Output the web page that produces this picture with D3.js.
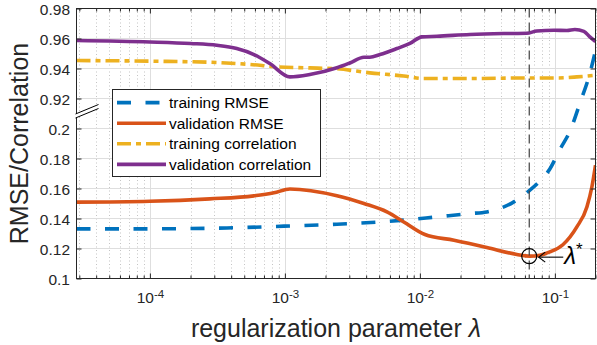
<!DOCTYPE html>
<html><head><meta charset="utf-8">
<script src="https://cdn.jsdelivr.net/npm/d3@7"></script>
<style>
body{margin:0;background:#fff}
svg{display:block}
text{font-family:"Liberation Sans",Arial,Helvetica,sans-serif}
</style>
</head><body>
<svg id="c" width="597" height="345"></svg>
<script>
// ---------- data ----------
const trainRmseLambda = [2.86e-5, 9.0e-5, 3.72e-4, 9.84e-4, 2.43e-3, 7.6e-3, 1.34e-2, 2.35e-2, 3.13e-2, 4.97e-2, 6.53e-2, 7.74e-2, 9.18e-2, 0.1089, 0.1303, 0.153, 0.1816, 0.2];
const trainRmse       = [0.1331, 0.1331, 0.1337, 0.1349, 0.1362, 0.1389, 0.1411, 0.1433, 0.1444, 0.1511, 0.1589, 0.1650, 0.1730, 0.1860, 0.1989, 0.2167, 0.2367, 0.252];

const valRmseLambda = [2.86e-5, 1e-4, 2.78e-4, 5.9e-4, 8.3e-4, 1.09e-3, 2.43e-3, 3.85e-3, 5.7e-3, 7.6e-3, 1.09e-2, 1.79e-2, 3.13e-2, 5.23e-2, 6.53e-2, 7.74e-2, 9.18e-2, 0.1146, 0.1455, 0.1727, 0.188, 0.2];
const valRmse       = [0.1509, 0.1515, 0.1531, 0.1551, 0.1571, 0.1597, 0.1552, 0.1500, 0.1444, 0.1377, 0.1293, 0.1255, 0.1207, 0.1160, 0.1149, 0.1155, 0.1177, 0.1225, 0.1344, 0.1477, 0.1610, 0.1755];

const trainCorrLambda = [2.86e-5, 1e-4, 3.13e-4, 5.5e-4, 8.73e-4, 1.53e-3, 2.43e-3, 4.26e-3, 7.6e-3, 1.07e-2, 2.35e-2, 6.2e-2, 0.1035, 0.1455, 0.2];
const trainCorr       = [0.9453, 0.9449, 0.9440, 0.9427, 0.9411, 0.9404, 0.9398, 0.9371, 0.9350, 0.9333, 0.9333, 0.9337, 0.9337, 0.9344, 0.9355];

const valCorrLambda = [2.86e-5, 1e-4, 2e-4, 3.13e-4, 4.4e-4, 5.9e-4, 7.74e-4, 1.09e-3, 1.53e-3, 2.43e-3, 3.03e-3, 3.85e-3, 4.26e-3, 5.06e-3, 6.76e-3, 8.44e-3, 1.035e-2, 1.34e-2, 2.35e-2, 4.19e-2, 6.2e-2, 7.36e-2, 9.84e-2, 0.1228, 0.1406, 0.164, 0.1816, 0.2];
const valCorr       = [0.9587, 0.9577, 0.9567, 0.9555, 0.9533, 0.9493, 0.9433, 0.9344, 0.9360, 0.9405, 0.9437, 0.9475, 0.9475, 0.9493, 0.9533, 0.9567, 0.9611, 0.9615, 0.9627, 0.9633, 0.9635, 0.9650, 0.9655, 0.9653, 0.9660, 0.9648, 0.9611, 0.9580];

const seriesNames = ["training RMSE", "validation RMSE", "training correlation", "validation correlation"];

// y axis with a break: correlation values are shifted down by this offset
const corrOffset = 0.70;
const yTickValues = [0.1, 0.12, 0.14, 0.16, 0.18, 0.2, 0.22, 0.24, 0.26, 0.28];
const yTickLabels = ["0.1", "0.12", "0.14", "0.16", "0.18", "0.2", "0.92", "0.94", "0.96", "0.98"];
const yBreakAt = 0.21;

const xMajorTicks = [1e-4, 1e-3, 1e-2, 1e-1];
const xMajorExp = ["-4", "-3", "-2", "-1"];

const lambdaStar = 0.0646;
const rmseAtStar = 0.1149;

// ---------- layout ----------
const L = 76.5, R = 595.5, T = 8.5, B = 278.5;
const svg = d3.select("#c");
const x = d3.scaleLog().domain([2.86e-5, 0.2]).range([L, R]);
const y = d3.scaleLinear().domain([0.1, 0.28]).range([B, T]);
const axisCol = "#262626";

// minor tick values
const xMinor = [];
for (let k = -5; k <= -1; k++) for (let m = 2; m <= 9; m++) {
  const v = m * Math.pow(10, k);
  if (v >= x.domain()[0] && v <= x.domain()[1]) xMinor.push(v);
}

// ---------- grid ----------
const grid = svg.append("g");
grid.selectAll(".mg").data(xMinor).join("line")
  .attr("x1", d => Math.round(x(d)) + 0.5).attr("x2", d => Math.round(x(d)) + 0.5)
  .attr("y1", T).attr("y2", B)
  .attr("stroke", "#c4c4c4").attr("stroke-width", 1).attr("stroke-dasharray", "1,2.5");
grid.selectAll(".Mg").data(xMajorTicks).join("line")
  .attr("x1", d => Math.round(x(d)) + 0.5).attr("x2", d => Math.round(x(d)) + 0.5)
  .attr("y1", T).attr("y2", B)
  .attr("stroke", "#dedede").attr("stroke-width", 1);
grid.selectAll(".hg").data(yTickValues).join("line")
  .attr("x1", L).attr("x2", R)
  .attr("y1", d => Math.round(y(d) - 0.5) + 0.5).attr("y2", d => Math.round(y(d) - 0.5) + 0.5)
  .attr("stroke", "#dedede").attr("stroke-width", 1);

// ---------- curves ----------
svg.append("clipPath").attr("id", "clip").append("rect")
  .attr("x", L).attr("y", T).attr("width", R - L).attr("height", B - T);

const series = [
  { name: seriesNames[0], xs: trainRmseLambda, ys: trainRmse, off: 0, color: "#0072BD", dash: "14,14.5" },
  { name: seriesNames[1], xs: valRmseLambda, ys: valRmse, off: 0, color: "#D95319", dash: null },
  { name: seriesNames[2], xs: trainCorrLambda, ys: trainCorr, off: corrOffset, color: "#EDB120", dash: "14,5,5,5" },
  { name: seriesNames[3], xs: valCorrLambda, ys: valCorr, off: corrOffset, color: "#7E2F8E", dash: null }
];
const line = d3.line().x(d => x(d[0])).y(d => y(d[1])).curve(d3.curveMonotoneX);
const curves = svg.append("g").attr("clip-path", "url(#clip)");
series.forEach(s => {
  const pts = s.xs.map((v, i) => [v, s.ys[i] - s.off]);
  curves.append("path").attr("d", line(pts))
    .attr("fill", "none").attr("stroke", s.color).attr("stroke-width", 3.6)
    .attr("stroke-dasharray", s.dash).attr("stroke-linejoin", "round");
});

// ---------- lambda* marker ----------
const xs = x(lambdaStar);
svg.append("line").attr("x1", xs).attr("x2", xs).attr("y1", T).attr("y2", B)
  .attr("stroke", "#404040").attr("stroke-width", 1.2).attr("stroke-dasharray", "9,5");
const ys = y(rmseAtStar);
svg.append("circle").attr("cx", xs).attr("cy", ys).attr("r", 7.5)
  .attr("fill", "none").attr("stroke", "#000").attr("stroke-width", 1.2);
svg.append("line").attr("x1", xs + 9.5).attr("x2", xs + 34).attr("y1", ys + 1).attr("y2", ys + 1)
  .attr("stroke", "#000").attr("stroke-width", 1.1);
svg.append("path").attr("d", `M${xs + 16},${ys - 4} L${xs + 9.5},${ys + 1} L${xs + 16},${ys + 6}`)
  .attr("fill", "none").attr("stroke", "#000").attr("stroke-width", 1.1);
const lt = svg.append("text").attr("x", xs + 35).attr("y", ys + 8)
  .attr("font-size", 24).attr("fill", "#000");
lt.append("tspan").attr("font-style", "italic").text("λ");
lt.append("tspan").attr("font-size", 17).attr("dy", -9).text("*");

// ---------- axes ----------
function styleAxis(g) {
  g.select(".domain").remove();
  g.selectAll(".tick line").attr("stroke", axisCol);
}
// bottom major
const gxb = svg.append("g").attr("transform", `translate(0,${B})`)
  .call(d3.axisBottom(x).tickValues(xMajorTicks).tickSizeInner(-5).tickSizeOuter(0).tickFormat(() => ""))
  .call(styleAxis);
gxb.selectAll(".tick text").each(function (d, i) {
  const t = d3.select(this);
  t.attr("y", 24.8).attr("dy", null).attr("fill", axisCol).attr("font-size", 15.5)
    .attr("font-family", '"Liberation Sans",Arial,Helvetica,sans-serif');
  t.text(null);
  t.append("tspan").text("10");
  t.append("tspan").attr("font-size", 11.5).attr("dy", -5.5).text(xMajorExp[i]);
});
svg.append("g").attr("transform", `translate(0,${B})`)
  .call(d3.axisBottom(x).tickValues(xMinor).tickSizeInner(-3).tickSizeOuter(0).tickFormat(() => ""))
  .call(styleAxis);
// top
svg.append("g").attr("transform", `translate(0,${T})`)
  .call(d3.axisTop(x).tickValues(xMajorTicks).tickSizeInner(-5).tickSizeOuter(0).tickFormat(() => ""))
  .call(styleAxis);
svg.append("g").attr("transform", `translate(0,${T})`)
  .call(d3.axisTop(x).tickValues(xMinor).tickSizeInner(-3).tickSizeOuter(0).tickFormat(() => ""))
  .call(styleAxis);
// left
const gyl = svg.append("g").attr("transform", `translate(${L},0)`)
  .call(d3.axisLeft(y).tickValues(yTickValues).tickSizeInner(-5).tickSizeOuter(0).tickFormat((d, i) => yTickLabels[i]))
  .call(styleAxis);
gyl.selectAll(".tick text").attr("x", -6.5).attr("dy", "0.36em").attr("fill", axisCol)
  .attr("font-size", 15.5).attr("font-family", '"Liberation Sans",Arial,Helvetica,sans-serif');
// right
svg.append("g").attr("transform", `translate(${R},0)`)
  .call(d3.axisRight(y).tickValues(yTickValues).tickSizeInner(-5).tickSizeOuter(0).tickFormat(() => ""))
  .call(styleAxis);
// box
svg.append("rect").attr("x", L).attr("y", T).attr("width", R - L).attr("height", B - T)
  .attr("fill", "none").attr("stroke", axisCol).attr("stroke-width", 1);

// axis break mark
const yb = y(yBreakAt);
svg.append("path")
  .attr("d", `M${L - 1},${yb + 0.5} L${L + 22},${yb - 9} L${L + 22},${yb - 5} L${L - 1},${yb + 4.5} Z`)
  .attr("fill", "#fff");
svg.append("path")
  .attr("d", `M${L - 1},${yb + 0.5} L${L + 22},${yb - 9} M${L - 1},${yb + 4.5} L${L + 22},${yb - 5}`)
  .attr("stroke", "#000").attr("stroke-width", 1);

// ---------- legend ----------
const lg = svg.append("g");
lg.append("rect").attr("x", 112.5).attr("y", 89.5).attr("width", 208).attr("height", 87)
  .attr("fill", "#fff").attr("stroke", axisCol).attr("stroke-width", 1);
series.forEach((s, i) => {
  const cy = 102.6 + i * 20.6;
  lg.append("line").attr("x1", 117).attr("x2", 166).attr("y1", cy).attr("y2", cy)
    .attr("stroke", s.color).attr("stroke-width", 3.6).attr("stroke-dasharray", s.dash);
  lg.append("text").attr("x", 169).attr("y", cy + 5.5).attr("font-size", 15.5).attr("fill", "#000").text(s.name);
});

// ---------- axis labels ----------
svg.append("text").attr("transform", `translate(28,${(T + B) / 2}) rotate(-90)`)
  .attr("text-anchor", "middle").attr("font-size", 25).attr("fill", axisCol).text("RMSE/Correlation");
const xl = svg.append("text").attr("x", (L + R) / 2).attr("y", 337)
  .attr("text-anchor", "middle").attr("font-size", 25).attr("fill", axisCol);
xl.append("tspan").text("regularization parameter ");
xl.append("tspan").attr("font-style", "italic").text("λ");
</script>
</body></html>
